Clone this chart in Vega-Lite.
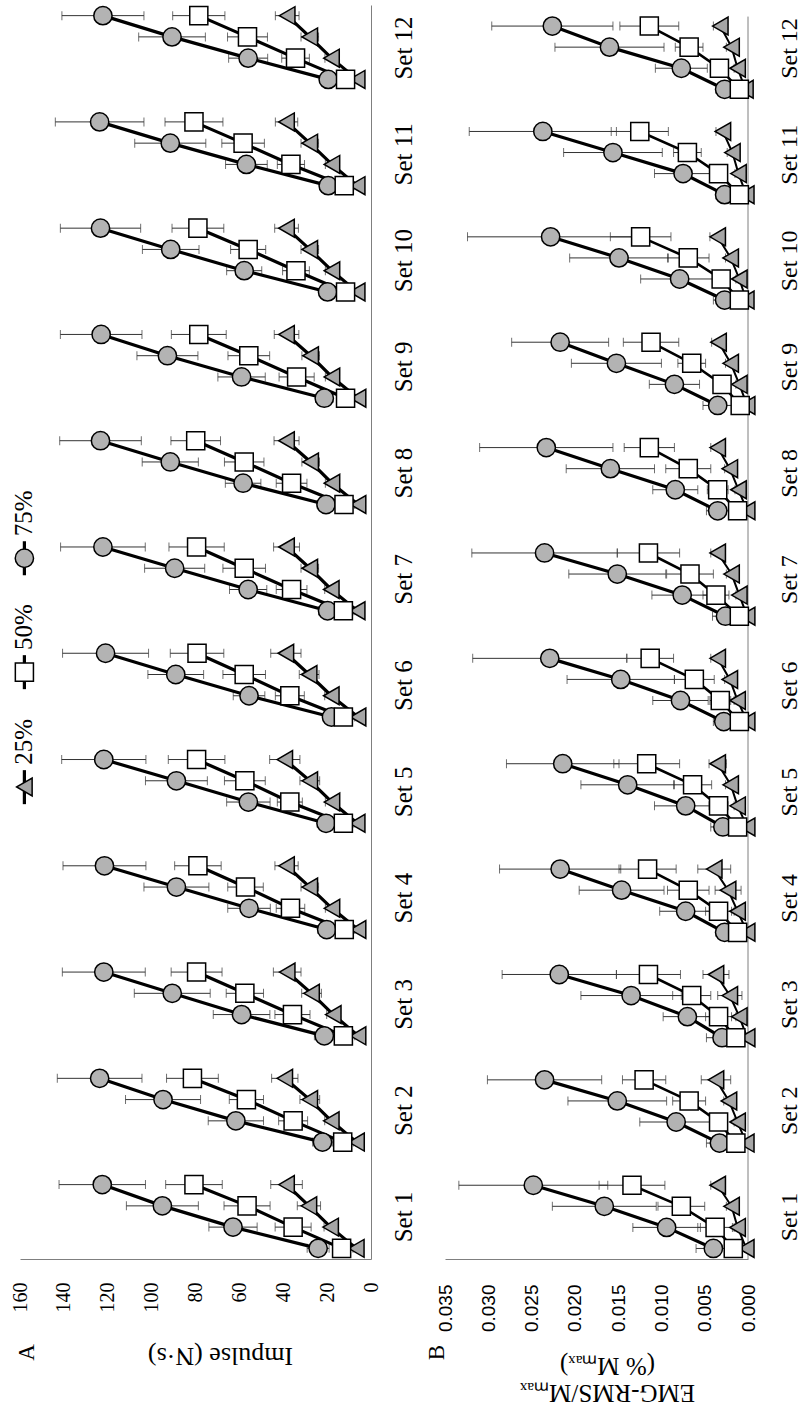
{
"$schema": "https://vega.github.io/schema/vega-lite/v6.json",
"background": "white",
"padding": {"left": 10, "top": 3, "right": 0, "bottom": 20},
"bounds": "flush",
"spacing": 74,
"config": {"view": {"stroke": null}, "font": "Liberation Serif", "axis": {"labelColor": "black", "titleColor": "black"}},
"datasets": {
"legend": [{"series": "25%"}, {"series": "50%"}, {"series": "75%"}],
"impulse": [
{"series":"25%","set":1,"k":1,"mean":6.7,"sd":1.5},{"series":"25%","set":1,"k":2,"mean":18.4,"sd":3},{"series":"25%","set":1,"k":3,"mean":28.3,"sd":5.3},{"series":"25%","set":1,"k":4,"mean":38.5,"sd":7.2},
{"series":"25%","set":2,"k":6,"mean":6.6,"sd":1.5},{"series":"25%","set":2,"k":7,"mean":18.1,"sd":3},{"series":"25%","set":2,"k":8,"mean":27.9,"sd":4.5},{"series":"25%","set":2,"k":9,"mean":39.3,"sd":6.0},
{"series":"25%","set":3,"k":11,"mean":5.9,"sd":1.5},{"series":"25%","set":3,"k":12,"mean":17.2,"sd":3},{"series":"25%","set":3,"k":13,"mean":27.1,"sd":4.5},{"series":"25%","set":3,"k":14,"mean":38.2,"sd":6.3},
{"series":"25%","set":4,"k":16,"mean":5.9,"sd":1.5},{"series":"25%","set":4,"k":17,"mean":17.8,"sd":3},{"series":"25%","set":4,"k":18,"mean":27.9,"sd":4},{"series":"25%","set":4,"k":19,"mean":38.5,"sd":5.3},
{"series":"25%","set":5,"k":21,"mean":6.3,"sd":1.5},{"series":"25%","set":5,"k":22,"mean":17.8,"sd":3},{"series":"25%","set":5,"k":23,"mean":27.9,"sd":4.5},{"series":"25%","set":5,"k":24,"mean":39.3,"sd":6.9},
{"series":"25%","set":6,"k":26,"mean":5.9,"sd":1.5},{"series":"25%","set":6,"k":27,"mean":18.1,"sd":3},{"series":"25%","set":6,"k":28,"mean":28.2,"sd":4.5},{"series":"25%","set":6,"k":29,"mean":38.8,"sd":6.9},
{"series":"25%","set":7,"k":31,"mean":6.3,"sd":1.5},{"series":"25%","set":7,"k":32,"mean":18.1,"sd":3},{"series":"25%","set":7,"k":33,"mean":27.9,"sd":4},{"series":"25%","set":7,"k":34,"mean":38.5,"sd":5.9},
{"series":"25%","set":8,"k":36,"mean":5.9,"sd":1.5},{"series":"25%","set":8,"k":37,"mean":17.8,"sd":3},{"series":"25%","set":8,"k":38,"mean":27.5,"sd":4},{"series":"25%","set":8,"k":39,"mean":38.5,"sd":5.7},
{"series":"25%","set":9,"k":41,"mean":5.9,"sd":1.5},{"series":"25%","set":9,"k":42,"mean":17.8,"sd":3},{"series":"25%","set":9,"k":43,"mean":27.5,"sd":4},{"series":"25%","set":9,"k":44,"mean":38.5,"sd":5.6},
{"series":"25%","set":10,"k":46,"mean":6.3,"sd":1.5},{"series":"25%","set":10,"k":47,"mean":17.8,"sd":3},{"series":"25%","set":10,"k":48,"mean":27.9,"sd":4},{"series":"25%","set":10,"k":49,"mean":38.5,"sd":5.4},
{"series":"25%","set":11,"k":51,"mean":6.3,"sd":1.5},{"series":"25%","set":11,"k":52,"mean":17.8,"sd":3},{"series":"25%","set":11,"k":53,"mean":27.9,"sd":4},{"series":"25%","set":11,"k":54,"mean":38.5,"sd":5.1},
{"series":"25%","set":12,"k":56,"mean":6.3,"sd":1.5},{"series":"25%","set":12,"k":57,"mean":18.0,"sd":3},{"series":"25%","set":12,"k":58,"mean":27.9,"sd":4},{"series":"25%","set":12,"k":59,"mean":38.2,"sd":5.4},
{"series":"75%","set":1,"k":1,"mean":24.1,"sd":5},{"series":"75%","set":1,"k":2,"mean":62.9,"sd":11.0},{"series":"75%","set":1,"k":3,"mean":95.1,"sd":16.4},{"series":"75%","set":1,"k":4,"mean":122.5,"sd":19.7},
{"series":"75%","set":2,"k":6,"mean":22.1,"sd":4.5},{"series":"75%","set":2,"k":7,"mean":61.6,"sd":12.6},{"series":"75%","set":2,"k":8,"mean":94.8,"sd":17.1},{"series":"75%","set":2,"k":9,"mean":123.7,"sd":19.3},
{"series":"75%","set":3,"k":11,"mean":21.3,"sd":4.5},{"series":"75%","set":3,"k":12,"mean":59.0,"sd":12.9},{"series":"75%","set":3,"k":13,"mean":90.6,"sd":17.3},{"series":"75%","set":3,"k":14,"mean":121.8,"sd":18.9},
{"series":"75%","set":4,"k":16,"mean":20.2,"sd":4},{"series":"75%","set":4,"k":17,"mean":55.6,"sd":9.7},{"series":"75%","set":4,"k":18,"mean":88.7,"sd":14.8},{"series":"75%","set":4,"k":19,"mean":121.5,"sd":18.9},
{"series":"75%","set":5,"k":21,"mean":20.5,"sd":4},{"series":"75%","set":5,"k":22,"mean":55.9,"sd":9.9},{"series":"75%","set":5,"k":23,"mean":88.7,"sd":14.1},{"series":"75%","set":5,"k":24,"mean":121.8,"sd":19.2},
{"series":"75%","set":6,"k":26,"mean":18.0,"sd":3.5},{"series":"75%","set":6,"k":27,"mean":55.6,"sd":7.2},{"series":"75%","set":6,"k":28,"mean":89.0,"sd":12.7},{"series":"75%","set":6,"k":29,"mean":121.0,"sd":19.6},
{"series":"75%","set":7,"k":31,"mean":19.8,"sd":4},{"series":"75%","set":7,"k":32,"mean":56.0,"sd":8.5},{"series":"75%","set":7,"k":33,"mean":89.5,"sd":13.7},{"series":"75%","set":7,"k":34,"mean":122.2,"sd":19.3},
{"series":"75%","set":8,"k":36,"mean":20.5,"sd":4},{"series":"75%","set":8,"k":37,"mean":58.3,"sd":8.1},{"series":"75%","set":8,"k":38,"mean":91.5,"sd":12.8},{"series":"75%","set":8,"k":39,"mean":123.3,"sd":18.6},
{"series":"75%","set":9,"k":41,"mean":21.3,"sd":4},{"series":"75%","set":9,"k":42,"mean":59.0,"sd":10.8},{"series":"75%","set":9,"k":43,"mean":92.8,"sd":13.9},{"series":"75%","set":9,"k":44,"mean":123.0,"sd":18.6},
{"series":"75%","set":10,"k":46,"mean":19.8,"sd":3.5},{"series":"75%","set":10,"k":47,"mean":57.8,"sd":8.0},{"series":"75%","set":10,"k":48,"mean":91.3,"sd":12.9},{"series":"75%","set":10,"k":49,"mean":123.3,"sd":18.3},
{"series":"75%","set":11,"k":51,"mean":19.5,"sd":3.5},{"series":"75%","set":11,"k":52,"mean":56.8,"sd":9.5},{"series":"75%","set":11,"k":53,"mean":91.5,"sd":16.2},{"series":"75%","set":11,"k":54,"mean":123.7,"sd":20.2},
{"series":"75%","set":12,"k":56,"mean":19.5,"sd":3.5},{"series":"75%","set":12,"k":57,"mean":56.0,"sd":8.9},{"series":"75%","set":12,"k":58,"mean":90.7,"sd":15.2},{"series":"75%","set":12,"k":59,"mean":122.2,"sd":18.7},
{"series":"50%","set":1,"k":1,"mean":13.4,"sd":2.5},{"series":"50%","set":1,"k":2,"mean":35.5,"sd":8.2},{"series":"50%","set":1,"k":3,"mean":56.5,"sd":10.5},{"series":"50%","set":1,"k":4,"mean":80.7,"sd":12.9},
{"series":"50%","set":2,"k":6,"mean":12.9,"sd":2.5},{"series":"50%","set":2,"k":7,"mean":35.5,"sd":6.6},{"series":"50%","set":2,"k":8,"mean":56.8,"sd":7.8},{"series":"50%","set":2,"k":9,"mean":81.4,"sd":11.8},
{"series":"50%","set":3,"k":11,"mean":12.6,"sd":2.5},{"series":"50%","set":3,"k":12,"mean":35.8,"sd":8.0},{"series":"50%","set":3,"k":13,"mean":57.5,"sd":8.5},{"series":"50%","set":3,"k":14,"mean":79.5,"sd":11.6},
{"series":"50%","set":4,"k":16,"mean":12.2,"sd":2.5},{"series":"50%","set":4,"k":17,"mean":36.7,"sd":6.5},{"series":"50%","set":4,"k":18,"mean":57.2,"sd":8.1},{"series":"50%","set":4,"k":19,"mean":78.9,"sd":10.6},
{"series":"50%","set":5,"k":21,"mean":12.6,"sd":2.5},{"series":"50%","set":5,"k":22,"mean":37.0,"sd":5.7},{"series":"50%","set":5,"k":23,"mean":57.5,"sd":9.3},{"series":"50%","set":5,"k":24,"mean":79.5,"sd":12.9},
{"series":"50%","set":6,"k":26,"mean":12.6,"sd":2.5},{"series":"50%","set":6,"k":27,"mean":37.0,"sd":6.6},{"series":"50%","set":6,"k":28,"mean":57.8,"sd":9.7},{"series":"50%","set":6,"k":29,"mean":79.3,"sd":12.2},
{"series":"50%","set":7,"k":31,"mean":12.6,"sd":2.5},{"series":"50%","set":7,"k":32,"mean":36.2,"sd":7.0},{"series":"50%","set":7,"k":33,"mean":57.8,"sd":9.7},{"series":"50%","set":7,"k":34,"mean":79.5,"sd":12.6},
{"series":"50%","set":8,"k":36,"mean":12.3,"sd":2.5},{"series":"50%","set":8,"k":37,"mean":36.2,"sd":7.0},{"series":"50%","set":8,"k":38,"mean":57.8,"sd":9.0},{"series":"50%","set":8,"k":39,"mean":79.9,"sd":11.3},
{"series":"50%","set":9,"k":41,"mean":11.6,"sd":2.5},{"series":"50%","set":9,"k":42,"mean":33.9,"sd":8.0},{"series":"50%","set":9,"k":43,"mean":55.7,"sd":9.5},{"series":"50%","set":9,"k":44,"mean":78.5,"sd":12.5},
{"series":"50%","set":10,"k":46,"mean":11.6,"sd":2.5},{"series":"50%","set":10,"k":47,"mean":34.2,"sd":6.1},{"series":"50%","set":10,"k":48,"mean":56.0,"sd":8.0},{"series":"50%","set":10,"k":49,"mean":78.9,"sd":11.8},
{"series":"50%","set":11,"k":51,"mean":12.2,"sd":2.5},{"series":"50%","set":11,"k":52,"mean":36.5,"sd":6.2},{"series":"50%","set":11,"k":53,"mean":58.3,"sd":9.7},{"series":"50%","set":11,"k":54,"mean":80.7,"sd":13.2},
{"series":"50%","set":12,"k":56,"mean":11.6,"sd":2.5},{"series":"50%","set":12,"k":57,"mean":34.4,"sd":6.3},{"series":"50%","set":12,"k":58,"mean":56.3,"sd":9.1},{"series":"50%","set":12,"k":59,"mean":78.5,"sd":11.9}
],
"emg": [
{"series":"25%","set":1,"k":1,"mean":0.0002,"sd":0.0002},{"series":"25%","set":1,"k":2,"mean":0.0012,"sd":0.0004},{"series":"25%","set":1,"k":3,"mean":0.0019,"sd":0.0006},{"series":"25%","set":1,"k":4,"mean":0.0035,"sd":0.0008},
{"series":"25%","set":2,"k":6,"mean":0.0002,"sd":0.0002},{"series":"25%","set":2,"k":7,"mean":0.0012,"sd":0.0004},{"series":"25%","set":2,"k":8,"mean":0.0022,"sd":0.0006},{"series":"25%","set":2,"k":9,"mean":0.0037,"sd":0.0017},
{"series":"25%","set":3,"k":11,"mean":0.0001,"sd":0.0002},{"series":"25%","set":3,"k":12,"mean":0.0010,"sd":0.0004},{"series":"25%","set":3,"k":13,"mean":0.0021,"sd":0.0014},{"series":"25%","set":3,"k":14,"mean":0.0037,"sd":0.0015},
{"series":"25%","set":4,"k":16,"mean":0.0001,"sd":0.0002},{"series":"25%","set":4,"k":17,"mean":0.0012,"sd":0.0004},{"series":"25%","set":4,"k":18,"mean":0.0023,"sd":0.0015},{"series":"25%","set":4,"k":19,"mean":0.0039,"sd":0.0019},
{"series":"25%","set":5,"k":21,"mean":0.0001,"sd":0.0002},{"series":"25%","set":5,"k":22,"mean":0.0012,"sd":0.0004},{"series":"25%","set":5,"k":23,"mean":0.0020,"sd":0.0006},{"series":"25%","set":5,"k":24,"mean":0.0035,"sd":0.0010},
{"series":"25%","set":6,"k":26,"mean":0.0001,"sd":0.0002},{"series":"25%","set":6,"k":27,"mean":0.0012,"sd":0.0004},{"series":"25%","set":6,"k":28,"mean":0.0021,"sd":0.0006},{"series":"25%","set":6,"k":29,"mean":0.0035,"sd":0.0008},
{"series":"25%","set":7,"k":31,"mean":0.0001,"sd":0.0002},{"series":"25%","set":7,"k":32,"mean":0.0010,"sd":0.0004},{"series":"25%","set":7,"k":33,"mean":0.0019,"sd":0.0006},{"series":"25%","set":7,"k":34,"mean":0.0035,"sd":0.0008},
{"series":"25%","set":8,"k":36,"mean":0.0001,"sd":0.0002},{"series":"25%","set":8,"k":37,"mean":0.0011,"sd":0.0004},{"series":"25%","set":8,"k":38,"mean":0.0021,"sd":0.0006},{"series":"25%","set":8,"k":39,"mean":0.0035,"sd":0.0008},
{"series":"25%","set":9,"k":41,"mean":0.0001,"sd":0.0002},{"series":"25%","set":9,"k":42,"mean":0.0010,"sd":0.0004},{"series":"25%","set":9,"k":43,"mean":0.0020,"sd":0.0006},{"series":"25%","set":9,"k":44,"mean":0.0034,"sd":0.0008},
{"series":"25%","set":10,"k":46,"mean":0.0002,"sd":0.0002},{"series":"25%","set":10,"k":47,"mean":0.0010,"sd":0.0004},{"series":"25%","set":10,"k":48,"mean":0.0020,"sd":0.0006},{"series":"25%","set":10,"k":49,"mean":0.0035,"sd":0.0009},
{"series":"25%","set":11,"k":51,"mean":0.0002,"sd":0.0002},{"series":"25%","set":11,"k":52,"mean":0.0011,"sd":0.0004},{"series":"25%","set":11,"k":53,"mean":0.0018,"sd":0.0006},{"series":"25%","set":11,"k":54,"mean":0.0029,"sd":0.0008},
{"series":"25%","set":12,"k":56,"mean":0.0003,"sd":0.0002},{"series":"25%","set":12,"k":57,"mean":0.0012,"sd":0.0004},{"series":"25%","set":12,"k":58,"mean":0.0019,"sd":0.0006},{"series":"25%","set":12,"k":59,"mean":0.0032,"sd":0.0008},
{"series":"75%","set":1,"k":1,"mean":0.0040,"sd":0.0020},{"series":"75%","set":1,"k":2,"mean":0.0094,"sd":0.0039},{"series":"75%","set":1,"k":3,"mean":0.0166,"sd":0.0060},{"series":"75%","set":1,"k":4,"mean":0.0248,"sd":0.0086},
{"series":"75%","set":2,"k":6,"mean":0.0033,"sd":0.0015},{"series":"75%","set":2,"k":7,"mean":0.0083,"sd":0.0042},{"series":"75%","set":2,"k":8,"mean":0.0151,"sd":0.0057},{"series":"75%","set":2,"k":9,"mean":0.0235,"sd":0.0066},
{"series":"75%","set":3,"k":11,"mean":0.0030,"sd":0.0018},{"series":"75%","set":3,"k":12,"mean":0.0070,"sd":0.0028},{"series":"75%","set":3,"k":13,"mean":0.0135,"sd":0.0058},{"series":"75%","set":3,"k":14,"mean":0.0218,"sd":0.0066},
{"series":"75%","set":4,"k":16,"mean":0.0027,"sd":0.0010},{"series":"75%","set":4,"k":17,"mean":0.0072,"sd":0.0030},{"series":"75%","set":4,"k":18,"mean":0.0146,"sd":0.0049},{"series":"75%","set":4,"k":19,"mean":0.0217,"sd":0.0070},
{"series":"75%","set":5,"k":21,"mean":0.0029,"sd":0.0014},{"series":"75%","set":5,"k":22,"mean":0.0072,"sd":0.0036},{"series":"75%","set":5,"k":23,"mean":0.0139,"sd":0.0054},{"series":"75%","set":5,"k":24,"mean":0.0214,"sd":0.0065},
{"series":"75%","set":6,"k":26,"mean":0.0028,"sd":0.0012},{"series":"75%","set":6,"k":27,"mean":0.0078,"sd":0.0032},{"series":"75%","set":6,"k":28,"mean":0.0147,"sd":0.0062},{"series":"75%","set":6,"k":29,"mean":0.0229,"sd":0.0089},
{"series":"75%","set":7,"k":31,"mean":0.0026,"sd":0.0015},{"series":"75%","set":7,"k":32,"mean":0.0076,"sd":0.0035},{"series":"75%","set":7,"k":33,"mean":0.0151,"sd":0.0056},{"series":"75%","set":7,"k":34,"mean":0.0235,"sd":0.0084},
{"series":"75%","set":8,"k":36,"mean":0.0035,"sd":0.0013},{"series":"75%","set":8,"k":37,"mean":0.0084,"sd":0.0026},{"series":"75%","set":8,"k":38,"mean":0.0159,"sd":0.0051},{"series":"75%","set":8,"k":39,"mean":0.0233,"sd":0.0077},
{"series":"75%","set":9,"k":41,"mean":0.0035,"sd":0.0017},{"series":"75%","set":9,"k":42,"mean":0.0085,"sd":0.0029},{"series":"75%","set":9,"k":43,"mean":0.0152,"sd":0.0052},{"series":"75%","set":9,"k":44,"mean":0.0217,"sd":0.0056},
{"series":"75%","set":10,"k":46,"mean":0.0027,"sd":0.0013},{"series":"75%","set":10,"k":47,"mean":0.0079,"sd":0.0045},{"series":"75%","set":10,"k":48,"mean":0.0149,"sd":0.0057},{"series":"75%","set":10,"k":49,"mean":0.0228,"sd":0.0096},
{"series":"75%","set":11,"k":51,"mean":0.0027,"sd":0.0010},{"series":"75%","set":11,"k":52,"mean":0.0075,"sd":0.0033},{"series":"75%","set":11,"k":53,"mean":0.0156,"sd":0.0057},{"series":"75%","set":11,"k":54,"mean":0.0237,"sd":0.0085},
{"series":"75%","set":12,"k":56,"mean":0.0027,"sd":0.0010},{"series":"75%","set":12,"k":57,"mean":0.0077,"sd":0.0030},{"series":"75%","set":12,"k":58,"mean":0.0160,"sd":0.0063},{"series":"75%","set":12,"k":59,"mean":0.0226,"sd":0.0070},
{"series":"50%","set":1,"k":1,"mean":0.0017,"sd":0.0006},{"series":"50%","set":1,"k":2,"mean":0.0038,"sd":0.0020},{"series":"50%","set":1,"k":3,"mean":0.0077,"sd":0.0027},{"series":"50%","set":1,"k":4,"mean":0.0134,"sd":0.0038},
{"series":"50%","set":2,"k":6,"mean":0.0014,"sd":0.0006},{"series":"50%","set":2,"k":7,"mean":0.0034,"sd":0.0010},{"series":"50%","set":2,"k":8,"mean":0.0068,"sd":0.0019},{"series":"50%","set":2,"k":9,"mean":0.0120,"sd":0.0025},
{"series":"50%","set":3,"k":11,"mean":0.0014,"sd":0.0006},{"series":"50%","set":3,"k":12,"mean":0.0034,"sd":0.0015},{"series":"50%","set":3,"k":13,"mean":0.0065,"sd":0.0022},{"series":"50%","set":3,"k":14,"mean":0.0115,"sd":0.0037},
{"series":"50%","set":4,"k":16,"mean":0.0012,"sd":0.0006},{"series":"50%","set":4,"k":17,"mean":0.0034,"sd":0.0015},{"series":"50%","set":4,"k":18,"mean":0.0069,"sd":0.0024},{"series":"50%","set":4,"k":19,"mean":0.0116,"sd":0.0033},
{"series":"50%","set":5,"k":21,"mean":0.0012,"sd":0.0006},{"series":"50%","set":5,"k":22,"mean":0.0034,"sd":0.0011},{"series":"50%","set":5,"k":23,"mean":0.0064,"sd":0.0022},{"series":"50%","set":5,"k":24,"mean":0.0117,"sd":0.0038},
{"series":"50%","set":6,"k":26,"mean":0.0010,"sd":0.0005},{"series":"50%","set":6,"k":27,"mean":0.0032,"sd":0.0012},{"series":"50%","set":6,"k":28,"mean":0.0062,"sd":0.0023},{"series":"50%","set":6,"k":29,"mean":0.0113,"sd":0.0027},
{"series":"50%","set":7,"k":31,"mean":0.0010,"sd":0.0005},{"series":"50%","set":7,"k":32,"mean":0.0037,"sd":0.0015},{"series":"50%","set":7,"k":33,"mean":0.0067,"sd":0.0027},{"series":"50%","set":7,"k":34,"mean":0.0115,"sd":0.0036},
{"series":"50%","set":8,"k":36,"mean":0.0012,"sd":0.0005},{"series":"50%","set":8,"k":37,"mean":0.0035,"sd":0.0012},{"series":"50%","set":8,"k":38,"mean":0.0069,"sd":0.0026},{"series":"50%","set":8,"k":39,"mean":0.0114,"sd":0.0029},
{"series":"50%","set":9,"k":41,"mean":0.0009,"sd":0.0005},{"series":"50%","set":9,"k":42,"mean":0.0030,"sd":0.0010},{"series":"50%","set":9,"k":43,"mean":0.0065,"sd":0.0016},{"series":"50%","set":9,"k":44,"mean":0.0112,"sd":0.0032},
{"series":"50%","set":10,"k":46,"mean":0.0010,"sd":0.0005},{"series":"50%","set":10,"k":47,"mean":0.0031,"sd":0.0010},{"series":"50%","set":10,"k":48,"mean":0.0069,"sd":0.0024},{"series":"50%","set":10,"k":49,"mean":0.0124,"sd":0.0035},
{"series":"50%","set":11,"k":51,"mean":0.0010,"sd":0.0005},{"series":"50%","set":11,"k":52,"mean":0.0034,"sd":0.0010},{"series":"50%","set":11,"k":53,"mean":0.0070,"sd":0.0016},{"series":"50%","set":11,"k":54,"mean":0.0125,"sd":0.0033},
{"series":"50%","set":12,"k":56,"mean":0.0010,"sd":0.0005},{"series":"50%","set":12,"k":57,"mean":0.0033,"sd":0.0010},{"series":"50%","set":12,"k":58,"mean":0.0068,"sd":0.0016},{"series":"50%","set":12,"k":59,"mean":0.0114,"sd":0.0034}
]
},
"hconcat": [
{
"width": 351, "height": 1254,
"layer": [
{"data": {"name": "impulse"},
 "mark": {"type": "errorbar", "ticks": {"size": 9, "color": "#333333"}, "rule": {"color": "#333333", "strokeWidth": 1}},
 "encoding": {
 "x": {"field": "mean", "type": "quantitative", "title": "Impulse (N·s)",
  "scale": {"domain": [0, 160], "reverse": true, "nice": false, "zero": false},
  "axis": {"orient": "bottom", "values": [0,20,40,60,80,100,120,140,160], "grid": false, "ticks": false,
   "domainColor": "#7f7f7f", "labelAngle": 270, "labelAlign": "right", "labelBaseline": "middle", "labelPadding": 23,
   "labelFont": "Liberation Serif", "labelFontSize": 20, "labelFlush": false, "labelOverlap": false,
   "titleFont": "Liberation Serif", "titleFontSize": 26, "titleFontWeight": "normal", "titleAngle": 180,
   "titleAlign": "center", "titleBaseline": "middle", "titleX": 200, "titleY": 96}},
 "y": {"field": "k", "type": "quantitative", "title": "A",
  "scale": {"domain": [0.5, 59.5], "nice": false, "zero": false},
  "axis": {"orient": "right", "values": [2.5,7.5,12.5,17.5,22.5,27.5,32.5,37.5,42.5,47.5,52.5,57.5],
   "labelExpr": "'Set ' + round((datum.value + 2.5) / 5)", "grid": false, "ticks": false, "domainColor": "#7f7f7f",
   "labelAngle": 270, "labelAlign": "center", "labelBaseline": "top", "labelPadding": 20,
   "labelFont": "Liberation Serif", "labelFontSize": 25, "labelOverlap": false, "labelFlush": false,
   "titleFont": "Liberation Serif", "titleFontSize": 23, "titleFontWeight": "normal", "titleAngle": 270,
   "titleAlign": "center", "titleBaseline": "middle", "titleX": -344.5, "titleY": 1347}},
 "xError": {"field": "sd"}}},
{"data": {"name": "impulse"},
 "mark": {"type": "line", "color": "black", "strokeWidth": 3.2},
 "encoding": {"x": {"field": "mean", "type": "quantitative", "title": "Impulse (N·s)"}, "y": {"field": "k", "type": "quantitative", "title": "A"},
  "detail": [{"field": "series"}, {"field": "set"}], "order": {"field": "k"}}},
{"data": {"name": "impulse"},
 "mark": {"type": "point", "filled": true, "stroke": "black", "strokeWidth": 1.5, "opacity": 1},
 "encoding": {"x": {"field": "mean", "type": "quantitative", "title": "Impulse (N·s)"}, "y": {"field": "k", "type": "quantitative", "title": "A"},
  "shape": {"field": "series", "type": "nominal", "scale": {"domain": ["25%","50%","75%"], "range": ["triangle-left","square","circle"]}, "legend": null},
  "fill": {"field": "series", "type": "nominal", "scale": {"domain": ["25%","50%","75%"], "range": ["#a6a6a6","#ffffff","#b3b3b3"]}, "legend": null},
  "size": {"field": "series", "type": "ordinal", "scale": {"domain": ["25%","50%","75%"], "range": [320,335,260]}, "legend": null}}},
{"data": {"name": "legend"}, "transform": [{"filter": "datum.series == '25%'"}],
 "mark": {"type": "rule", "color": "black", "strokeWidth": 3.2},
 "encoding": {"x": {"datum": 158, "type": "quantitative", "title": "Impulse (N·s)"}, "y": {"datum": 21.9, "type": "quantitative", "title": "A"}, "y2": {"datum": 23.5}}},
{"data": {"name": "legend"}, "transform": [{"filter": "datum.series == '50%'"}],
 "mark": {"type": "rule", "color": "black", "strokeWidth": 3.2},
 "encoding": {"x": {"datum": 158, "type": "quantitative", "title": "Impulse (N·s)"}, "y": {"datum": 27.31, "type": "quantitative", "title": "A"}, "y2": {"datum": 28.91}}},
{"data": {"name": "legend"}, "transform": [{"filter": "datum.series == '75%'"}],
 "mark": {"type": "rule", "color": "black", "strokeWidth": 3.2},
 "encoding": {"x": {"datum": 158, "type": "quantitative", "title": "Impulse (N·s)"}, "y": {"datum": 32.67, "type": "quantitative", "title": "A"}, "y2": {"datum": 34.27}}},
{"data": {"name": "legend"}, "transform": [{"filter": "datum.series == '25%'"}],
 "mark": {"type": "point", "filled": true, "stroke": "black", "strokeWidth": 1.5, "opacity": 1},
 "encoding": {"x": {"datum": 158, "type": "quantitative", "title": "Impulse (N·s)"}, "y": {"datum": 22.71, "type": "quantitative", "title": "A"},
  "shape": {"field": "series", "type": "nominal", "legend": null}, "fill": {"field": "series", "type": "nominal", "legend": null}, "size": {"field": "series", "type": "ordinal", "legend": null}}},
{"data": {"name": "legend"}, "transform": [{"filter": "datum.series == '50%'"}],
 "mark": {"type": "point", "filled": true, "stroke": "black", "strokeWidth": 1.5, "opacity": 1},
 "encoding": {"x": {"datum": 158, "type": "quantitative", "title": "Impulse (N·s)"}, "y": {"datum": 28.11, "type": "quantitative", "title": "A"},
  "shape": {"field": "series", "type": "nominal", "legend": null}, "fill": {"field": "series", "type": "nominal", "legend": null}, "size": {"field": "series", "type": "ordinal", "legend": null}}},
{"data": {"name": "legend"}, "transform": [{"filter": "datum.series == '75%'"}],
 "mark": {"type": "point", "filled": true, "stroke": "black", "strokeWidth": 1.5, "opacity": 1},
 "encoding": {"x": {"datum": 158, "type": "quantitative", "title": "Impulse (N·s)"}, "y": {"datum": 33.47, "type": "quantitative", "title": "A"},
  "shape": {"field": "series", "type": "nominal", "legend": null}, "fill": {"field": "series", "type": "nominal", "legend": null}, "size": {"field": "series", "type": "ordinal", "legend": null}}},
{"data": {"name": "legend"}, "transform": [{"filter": "datum.series == '25%'"}],
 "mark": {"type": "text", "angle": 270, "align": "left", "baseline": "middle", "font": "Liberation Serif", "fontSize": 25, "color": "black"},
 "encoding": {"x": {"datum": 158, "type": "quantitative", "title": "Impulse (N·s)"}, "y": {"datum": 23.75, "type": "quantitative", "title": "A"}, "text": {"field": "series"}}},
{"data": {"name": "legend"}, "transform": [{"filter": "datum.series == '50%'"}],
 "mark": {"type": "text", "angle": 270, "align": "left", "baseline": "middle", "font": "Liberation Serif", "fontSize": 25, "color": "black"},
 "encoding": {"x": {"datum": 158, "type": "quantitative", "title": "Impulse (N·s)"}, "y": {"datum": 29.15, "type": "quantitative", "title": "A"}, "text": {"field": "series"}}},
{"data": {"name": "legend"}, "transform": [{"filter": "datum.series == '75%'"}],
 "mark": {"type": "text", "angle": 270, "align": "left", "baseline": "middle", "font": "Liberation Serif", "fontSize": 25, "color": "black"},
 "encoding": {"x": {"datum": 158, "type": "quantitative", "title": "Impulse (N·s)"}, "y": {"datum": 34.5, "type": "quantitative", "title": "A"}, "text": {"field": "series"}}}
]
},
{
"width": 303, "height": 1254,
"layer": [
{"data": {"name": "legend"}, "transform": [{"filter": "datum.series == '25%'"}],
 "mark": {"type": "rule", "color": "#7f7f7f", "strokeWidth": 1},
 "encoding": {"x": {"datum": 0, "type": "quantitative", "title": ["EMG-RMS/Mₘₐₓ", "(% Mₘₐₓ)"]}, "y": {"datum": 0.5, "type": "quantitative", "title": "B"}, "y2": {"datum": 59.45}}},
{"data": {"name": "emg"},
 "mark": {"type": "errorbar", "ticks": {"size": 9, "color": "#333333"}, "rule": {"color": "#333333", "strokeWidth": 1}},
 "encoding": {
 "x": {"field": "mean", "type": "quantitative", "title": ["EMG-RMS/Mₘₐₓ", "(% Mₘₐₓ)"],
  "scale": {"domain": [0, 0.035], "reverse": true, "nice": false, "zero": false},
  "axis": {"orient": "bottom", "values": [0,0.005,0.01,0.015,0.02,0.025,0.03,0.035], "format": ".3f", "grid": false, "ticks": false,
   "domainColor": "#7f7f7f", "labelAngle": 270, "labelAlign": "right", "labelBaseline": "middle", "labelPadding": 25,
   "labelFont": "Liberation Sans", "labelFontSize": 19, "labelFlush": false, "labelOverlap": false,
   "titleFont": "Liberation Serif", "titleFontSize": 25, "titleFontWeight": "normal", "titleAngle": 180,
   "titleAlign": "center", "titleBaseline": "middle", "titleLineHeight": 27, "titleX": 162, "titleY": 133}},
 "y": {"field": "k", "type": "quantitative", "title": "B",
  "scale": {"domain": [0.5, 60.0], "nice": false, "zero": false},
  "axis": {"orient": "right", "values": [2.516,7.556,12.597,17.637,22.677,27.718,32.758,37.798,42.839,47.879,52.919,57.959],
   "labelExpr": "'Set ' + round(((datum.value - 0.5) / 1.00806 + 3) / 5)", "grid": false, "ticks": false, "domain": false,
   "labelAngle": 270, "labelAlign": "center", "labelBaseline": "top", "labelPadding": 29,
   "labelFont": "Liberation Serif", "labelFontSize": 24, "labelOverlap": false, "labelFlush": false,
   "titleFont": "Liberation Serif", "titleFontSize": 23, "titleFontWeight": "normal", "titleAngle": 270,
   "titleAlign": "center", "titleBaseline": "middle", "titleX": -312, "titleY": 1347}},
 "xError": {"field": "sd"}}},
{"data": {"name": "emg"},
 "mark": {"type": "line", "color": "black"},
 "encoding": {"x": {"field": "mean", "type": "quantitative", "title": ["EMG-RMS/Mₘₐₓ", "(% Mₘₐₓ)"]}, "y": {"field": "k", "type": "quantitative", "title": "B"},
  "detail": [{"field": "series"}, {"field": "set"}], "order": {"field": "k"},
  "strokeWidth": {"field": "series", "type": "nominal", "scale": {"domain": ["25%","50%","75%"], "range": [2, 3.2, 3.2]}, "legend": null}}},
{"data": {"name": "emg"},
 "mark": {"type": "point", "filled": true, "stroke": "black", "strokeWidth": 1.5, "opacity": 1},
 "encoding": {"x": {"field": "mean", "type": "quantitative", "title": ["EMG-RMS/Mₘₐₓ", "(% Mₘₐₓ)"]}, "y": {"field": "k", "type": "quantitative", "title": "B"},
  "shape": {"field": "series", "type": "nominal", "scale": {"domain": ["25%","50%","75%"], "range": ["triangle-left","square","circle"]}, "legend": null},
  "fill": {"field": "series", "type": "nominal", "scale": {"domain": ["25%","50%","75%"], "range": ["#a6a6a6","#ffffff","#b3b3b3"]}, "legend": null},
  "size": {"field": "series", "type": "ordinal", "scale": {"domain": ["25%","50%","75%"], "range": [320,335,260]}, "legend": null}}}
]
}
]
}
